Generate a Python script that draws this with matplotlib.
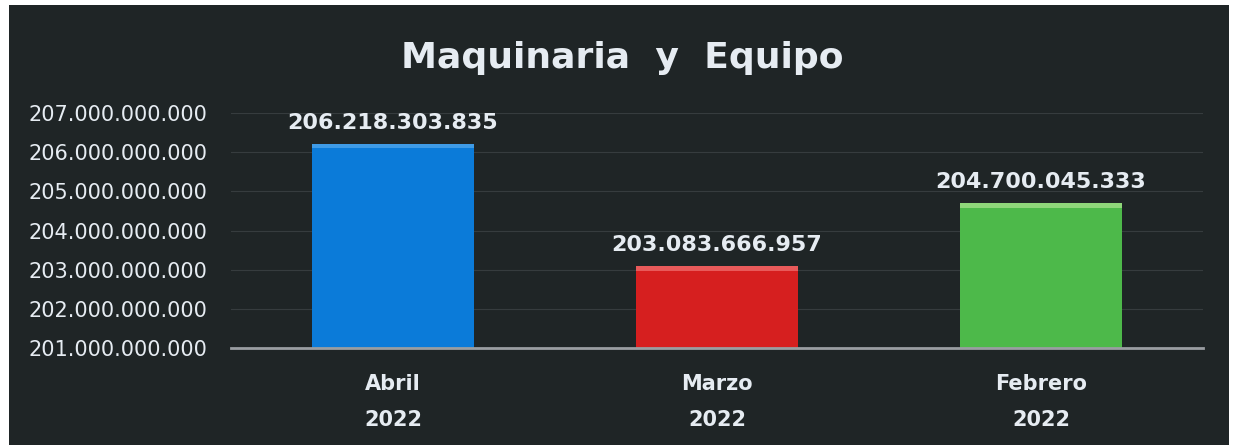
import numpy as np
import matplotlib
matplotlib.use('Agg')
import matplotlib.pyplot as plt
from matplotlib.patches import Rectangle
from matplotlib.ticker import FuncFormatter

months = ['Abril', 'Marzo', 'Febrero']
years = ['2022', '2022', '2022']
values = [206218303835, 203083666957, 204700045333]
bar_colors = ['#0b7bd9', '#d61f1f', '#4db94a']
top_colors = ['#3f9be6', '#e85a5a', '#8fd77a']

bg = '#1f2526'
txt = '#e6ecf2'


def miles(v, pos=None):
    # 207000000000 -> 207.000.000.000
    return '{:,.0f}'.format(v).replace(',', '.')


fig = plt.figure(figsize=(12.35, 4.48), dpi=100)
fig.patch.set_facecolor('white')
# dark panel of the chart area inside the white scan border
fig.patches.append(Rectangle((9 / 1235, 3 / 448), 1220 / 1235, 440 / 448,
                             transform=fig.transFigure, facecolor=bg,
                             edgecolor='none', zorder=-5))

ax = fig.add_axes([231 / 1235, 100 / 448, 972 / 1235, 235 / 448])
ax.set_facecolor('none')

x = np.arange(len(months))
bars = ax.bar(x, values, width=0.5, color=bar_colors, zorder=3)
# light bevel strip on top of each bar
band = 0.12e9
ax.bar(x, band, bottom=np.array(values) - band, width=0.5,
       color=top_colors, zorder=3.5)

ax.set_xlim(-0.5, len(months) - 0.5)
ax.set_ylim(201e9, 207e9)
ax.set_yticks(np.arange(201e9, 207.5e9, 1e9))
ax.yaxis.set_major_formatter(FuncFormatter(miles))
ax.grid(axis='y', color='#363c3e', linewidth=0.8, zorder=0)

for s in ['top', 'right', 'left']:
    ax.spines[s].set_visible(False)
ax.spines['bottom'].set_color('#9a9ea2')
ax.spines['bottom'].set_linewidth(2)
ax.spines['bottom'].set_zorder(4)

ax.tick_params(axis='y', length=0, pad=17, labelsize=15, labelcolor=txt)
ax.tick_params(axis='x', length=0, pad=19, labelsize=15, labelcolor=txt)
ax.set_xticks(x)
ax.set_xticklabels([m + '\n' + y for m, y in zip(months, years)],
                   fontweight='bold')
for t in ax.get_xticklabels():
    t.set_linespacing(1.95)

for b, v in zip(bars, values):
    ax.annotate(miles(v), (b.get_x() + b.get_width() / 2, v),
                xytext=(0, 8), textcoords='offset points',
                ha='center', va='bottom', fontsize=16,
                fontweight='bold', color=txt)

fig.text(622 / 1235, 1 - 58 / 448, 'Maquinaria  y  Equipo', ha='center',
         va='center', fontsize=26, fontweight='bold', color=txt)

fig.savefig('out.png', dpi=100, facecolor=fig.get_facecolor())
